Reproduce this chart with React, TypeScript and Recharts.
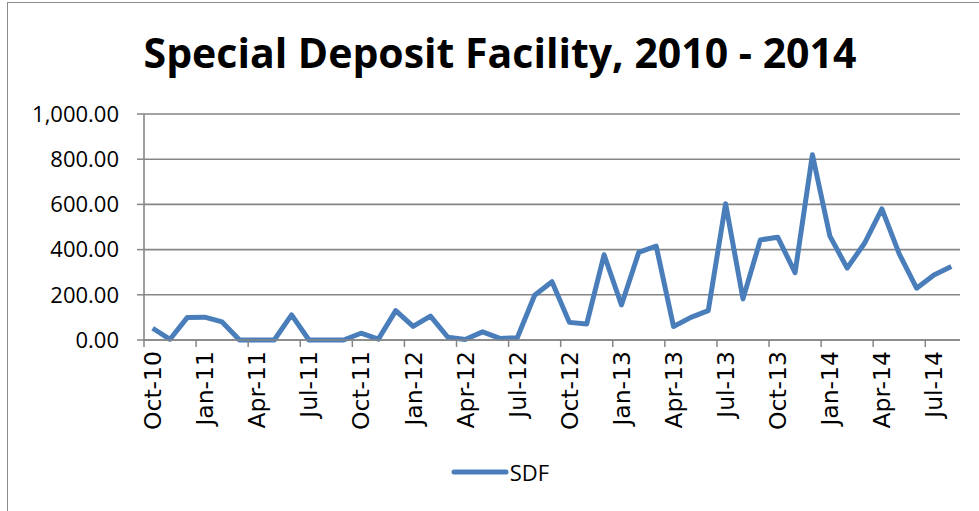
import { CartesianGrid, Legend, Line, LineChart, XAxis, YAxis } from 'recharts';

const months = [
  'Oct-10', 'Nov-10', 'Dec-10', 'Jan-11', 'Feb-11', 'Mar-11', 'Apr-11', 'May-11',
  'Jun-11', 'Jul-11', 'Aug-11', 'Sep-11', 'Oct-11', 'Nov-11', 'Dec-11', 'Jan-12',
  'Feb-12', 'Mar-12', 'Apr-12', 'May-12', 'Jun-12', 'Jul-12', 'Aug-12', 'Sep-12',
  'Oct-12', 'Nov-12', 'Dec-12', 'Jan-13', 'Feb-13', 'Mar-13', 'Apr-13', 'May-13',
  'Jun-13', 'Jul-13', 'Aug-13', 'Sep-13', 'Oct-13', 'Nov-13', 'Dec-13', 'Jan-14',
  'Feb-14', 'Mar-14', 'Apr-14', 'May-14', 'Jun-14', 'Jul-14', 'Aug-14',
];

const sdf = [
  52, 3, 100, 101, 80, 0, 0, 0,
  111, 0, 0, 0, 30, 4, 130, 60,
  106, 12, 2, 36, 7, 10, 198, 258,
  78, 71, 377, 155, 388, 416, 60, 100,
  130, 603, 182, 443, 455, 298, 820, 461,
  318, 428, 580, 381, 229, 288, 325,
];

const yTicks = [0, 200, 400, 600, 800, 1000];

const LINE_BLUE = '#4a7ebb';
const GRID_GREY = '#868686';
const BAND_HALF = 8.68; // half a category width, for Excel-style boundary ticks

const data = months.map((m, i) => ({ month: m, SDF: sdf[i] }));

const fmt = (v: number) =>
  v.toLocaleString('en-US', { minimumFractionDigits: 2, maximumFractionDigits: 2 });

function MonthTick(props: any) {
  const { x, payload } = props;
  return (
    <g>
      <line x1={x - BAND_HALF} x2={x - BAND_HALF} y1={340} y2={347} stroke={GRID_GREY} strokeWidth={1.5} />
      <text
        x={x}
        y={351}
        transform={`rotate(-90, ${x}, 351)`}
        textAnchor="end"
        dy="0.36em"
        fill="#000"
        fontSize={23.5}
        fontFamily="DejaVu Sans, Verdana, sans-serif"
      >
        {payload.value}
      </text>
    </g>
  );
}

function LegendBox() {
  return (
    <div style={{ display: 'flex', alignItems: 'center', justifyContent: 'center', paddingLeft: 40 }}>
      <svg width={58} height={10}>
        <line x1={3} x2={55} y1={5} y2={5} stroke={LINE_BLUE} strokeWidth={5} strokeLinecap="round" />
      </svg>
      <span style={{ fontFamily: 'Open Sans, sans-serif', fontSize: 22, color: '#000', marginLeft: 1 }}>SDF</span>
    </div>
  );
}

export default function App() {
  return (
    <div
      style={{
        position: 'absolute',
        left: 0,
        top: 0,
        width: 979,
        height: 511,
        overflow: 'hidden',
        background: '#fff',
      }}
    >
      <div
        style={{
          position: 'absolute',
          left: 7,
          top: 2,
          width: 1000,
          height: 560,
          border: '1.5px solid #8c8c8c',
        }}
      />
      <div
        style={{
          position: 'absolute',
          left: 0,
          top: 24,
          width: 1000,
          textAlign: 'center',
          fontFamily: 'Open Sans, sans-serif',
          fontWeight: 700,
          fontSize: 41,
          lineHeight: '56px',
          color: '#000',
        }}
      >
        Special Deposit Facility, 2010 - 2014
      </div>
      <div style={{ position: 'absolute', left: 0, top: 0 }}>
        <LineChart width={979} height={511} data={data} margin={{ top: 114, right: 19, left: 0, bottom: 24 }}>
          <CartesianGrid vertical={false} stroke={GRID_GREY} strokeWidth={1.6} />
          <XAxis
            dataKey="month"
            interval={2}
            padding={{ left: BAND_HALF, right: BAND_HALF }}
            height={117}
            tickLine={false}
            axisLine={{ stroke: GRID_GREY, strokeWidth: 1.6 }}
            tick={<MonthTick />}
          />
          <YAxis
            domain={[0, 1000]}
            ticks={yTicks}
            width={144}
            tickFormatter={fmt}
            tickSize={7}
            tickMargin={18}
            tickLine={{ stroke: GRID_GREY, strokeWidth: 1.5 }}
            axisLine={{ stroke: GRID_GREY, strokeWidth: 1.6 }}
            tick={{ fill: '#000', fontSize: 22, fontFamily: 'Open Sans, sans-serif' }}
          />
          <Legend verticalAlign="bottom" height={30} content={<LegendBox />} />
          <Line
            type="linear"
            dataKey="SDF"
            stroke={LINE_BLUE}
            strokeWidth={5}
            strokeLinejoin="round"
            dot={false}
            isAnimationActive={false}
          />
        </LineChart>
      </div>
    </div>
  );
}
